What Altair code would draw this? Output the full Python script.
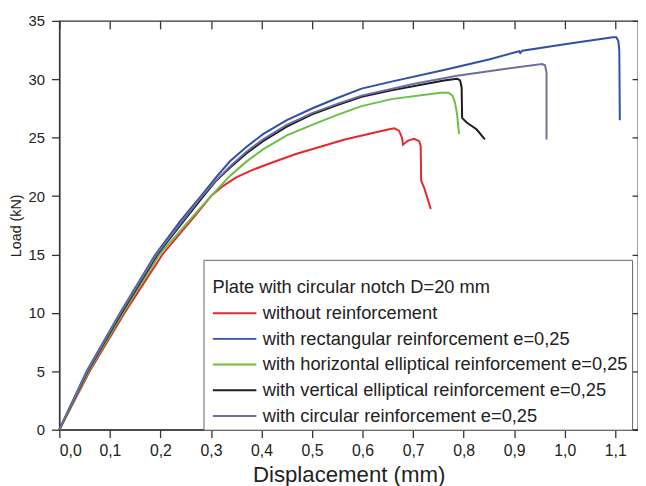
import altair as alt
import pandas as pd

series_names = [
    "without reinforcement",
    "with rectangular reinforcement e=0,25",
    "with horizontal elliptical reinforcement e=0,25",
    "with vertical elliptical reinforcement e=0,25",
    "with circular reinforcement e=0,25",
]
series_colors = ["#e5282c", "#2f4fa8", "#6cbf45", "#1c1c1c", "#6b6fa3"]

red_d = [0, 0.06, 0.129, 0.204, 0.272, 0.30, 0.325, 0.35, 0.38, 0.42, 0.468, 0.565, 0.65, 0.663, 0.672, 0.678, 0.68, 0.69, 0.702, 0.712, 0.715, 0.716, 0.722, 0.735]
red_L = [0, 5, 10, 15, 18.5, 20.0, 20.9, 21.6, 22.2, 22.85, 23.6, 24.85, 25.7, 25.8, 25.6, 25.0, 24.4, 24.75, 24.9, 24.7, 24.3, 21.3, 20.7, 18.9]

blue_d = [0, 0.054, 0.12, 0.19, 0.24, 0.28, 0.31, 0.338, 0.37, 0.403, 0.45, 0.5, 0.55, 0.598, 0.657, 0.761, 0.85, 0.91, 0.912, 0.916, 1.0, 1.095, 1.102, 1.106, 1.108, 1.109]
blue_L = [0, 5, 10, 15, 17.9, 20, 21.6, 23.0, 24.2, 25.3, 26.5, 27.5, 28.4, 29.2, 29.8, 30.8, 31.7, 32.4, 32.25, 32.45, 33.0, 33.6, 33.6, 33.3, 32.5, 26.5]

green_d = [0, 0.058, 0.126, 0.198, 0.272, 0.30, 0.338, 0.37, 0.403, 0.45, 0.5, 0.55, 0.598, 0.657, 0.754, 0.77, 0.778, 0.783, 0.787, 0.791]
green_L = [0, 5, 10, 15, 18.65, 20.0, 21.75, 22.95, 24.0, 25.2, 26.1, 26.95, 27.7, 28.3, 28.85, 28.85, 28.6, 28.0, 27.0, 25.3]

black_d = [0, 0.056, 0.123, 0.194, 0.285, 0.31, 0.338, 0.37, 0.403, 0.45, 0.5, 0.55, 0.598, 0.657, 0.761, 0.787, 0.793, 0.796, 0.797, 0.806, 0.826, 0.842]
black_L = [0, 5, 10, 15, 20, 21.3, 22.45, 23.65, 24.7, 25.95, 27.0, 27.8, 28.5, 29.05, 29.9, 30.05, 29.9, 29.3, 26.7, 26.3, 25.7, 24.85]

slate_d = [0, 0.055, 0.121, 0.192, 0.282, 0.31, 0.338, 0.37, 0.403, 0.45, 0.5, 0.55, 0.598, 0.7, 0.787, 0.884, 0.955, 0.961, 0.964, 0.964]
slate_L = [0, 5, 10, 15, 20, 21.35, 22.55, 23.8, 24.85, 26.1, 27.1, 27.9, 28.6, 29.6, 30.3, 30.9, 31.3, 31.2, 30.6, 24.85]

x_ticks = [0, 0.1, 0.2, 0.3, 0.4, 0.5, 0.6, 0.7, 0.8, 0.9, 1.0, 1.1]
y_ticks = [0, 5, 10, 15, 20, 25, 30, 35]

all_d = [red_d, blue_d, green_d, black_d, slate_d]
all_L = [red_L, blue_L, green_L, black_L, slate_L]

rows = []
for name, ds, Ls in zip(series_names, all_d, all_L):
    for i, (d, L) in enumerate(zip(ds, Ls)):
        rows.append({"series": name, "d": d, "L": L, "i": i})
df = pd.DataFrame(rows)

W, H = 586, 414
fmt = "replace(format(datum.value, '.1f'), '.', ',')"
x_scale = alt.Scale(domain=[0, 1.145], nice=False, zero=False)
y_scale = alt.Scale(domain=[0, 35], nice=False)

lines = alt.Chart(df).mark_line(strokeWidth=2).encode(
    x=alt.X("d:Q", scale=x_scale, axis=alt.Axis(
        title="Displacement (mm)", values=x_ticks, labelExpr=fmt,
        tickSize=8, labelPadding=5, titleFontSize=22.5, titlePadding=5,
        labelFontSize=16, grid=False)),
    y=alt.Y("L:Q", scale=y_scale, axis=alt.Axis(
        title="Load (kN)", values=y_ticks, tickSize=8, labelPadding=7,
        labelFontSize=15, titleFontSize=14.5, titlePadding=5, grid=False)),
    color=alt.Color("series:N", scale=alt.Scale(domain=series_names, range=series_colors),
                    legend=alt.Legend(
                        title=["", "\u200b\u00a0Plate with circular notch D=20 mm"],
                        orient="none", legendX=146, legendY=242,
                        padding=4, strokeColor="#666", fillColor="white",
                        symbolType="M-1.033,-0.28H1.033", symbolSize=1815, symbolStrokeWidth=2,
                        symbolOffset=5, labelOffset=6, labelBaseline="alphabetic",
                        labelFontSize=18.5, titleFontSize=18.5, titleFontWeight="normal",
                        titleLineHeight=15, titlePadding=0,
                        labelLimit=500, titleLimit=500, rowPadding=0,
                        labelColor="#222", titleColor="#222")),
    order="i:Q",
)

inner = alt.Chart(df).mark_point(opacity=0).encode(
    x=alt.X("d:Q", scale=x_scale, axis=alt.Axis(
        orient="top", offset=-8, tickSize=8, domain=False, labels=False,
        title=None, values=x_ticks, grid=False)),
    y=alt.Y("L:Q", scale=y_scale, axis=alt.Axis(
        orient="right", offset=-6, tickSize=6, domain=False, labels=False,
        title=None, values=y_ticks, grid=False)),
)

chart = alt.layer(lines, inner).resolve_axis(x="independent", y="independent").properties(
    width=W, height=H,
    padding={"left": 52, "top": 10, "right": 0, "bottom": 56},
    autosize=alt.AutoSizeParams(type="none"),
).configure(font="Liberation Sans").configure_view(
    stroke="#333", strokeWidth=1.3
).configure_axis(
    domainColor="#333", tickColor="#333", domainWidth=1.3, tickWidth=1.3,
    labelColor="#222", titleColor="#222", titleFontWeight="normal"
)

chart.save("out.html", embed_options={"renderer": "svg", "actions": False})
